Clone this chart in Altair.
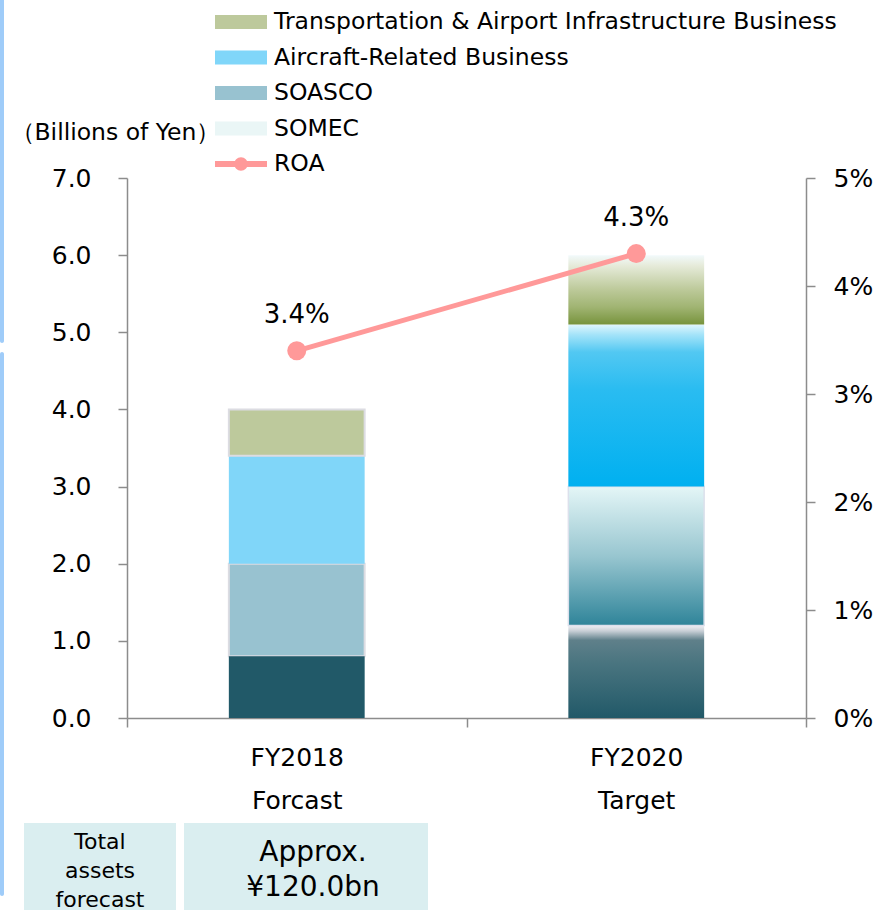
import altair as alt
import pandas as pd

# ---------------- data ----------------
categories = ["FY2018|Forcast", "FY2020|Target"]
series_names = ["SOMEC", "SOASCO", "Aircraft-Related Business",
                "Transportation & Airport Infrastructure Business"]
somec = [0.8, 1.2]
soasco = [1.2, 1.8]
aircraft = [1.4, 2.1]
transport = [0.6, 0.9]
roa = [3.4, 4.3]
legend_order = [series_names[3], series_names[2], series_names[1], series_names[0]]
legend_colors = ["#BDC99C", "#80D6F9", "#98C2D0", "#EAF6F6"]
left_ticks = [0, 1, 2, 3, 4, 5, 6, 7]
right_ticks = [0, 1, 2, 3, 4, 5]
table_head = ["Total", "assets", "forecast"]
table_value = ["Approx.", "¥120.0bn"]

rows = []
for i, cat in enumerate(categories):
    base = 0.0
    for name, vals in zip(series_names, [somec, soasco, aircraft, transport]):
        rows.append({"category": cat, "series": name, "value": vals[i],
                     "y0": round(base, 3), "y1": round(base + vals[i], 3)})
        base += vals[i]
df = pd.DataFrame(rows)
roa_df = pd.DataFrame({"category": categories, "roa": roa,
                       "label": [f"{v:.1f}%" for v in roa], "name": ["ROA"] * 2})
one = pd.DataFrame({"k": [0]})

GRAY = "#8C8C8C"
FONT = "DejaVu Sans"
BAR_W = alt.RelativeBandSize(0.4)

x_enc = alt.X("category:N", sort=categories,
              scale=alt.Scale(paddingInner=0, paddingOuter=0),
              axis=alt.Axis(title=None, labelExpr="split(datum.label, '|')", labelAngle=0,
                            labelFontSize=25, labelLineHeight=43, labelPadding=18,
                            labelBaseline="top", tickSize=9, tickBand="extent",
                            labelFont=FONT, labelColor="#000"))

y_bar = alt.Y("y0:Q", scale=alt.Scale(domain=[0, 7], nice=False),
              axis=alt.Axis(orient="left", values=left_ticks, format=".1f",
                            title="（Billions of Yen）", titleAngle=0, titleX=-117, titleY=-46,
                            titleAlign="left", titleBaseline="middle", titleFont=FONT,
                            titleFontSize=23.5, titleFontWeight="normal", titleColor="#000",
                            labelFontSize=25, labelPadding=27, tickSize=9,
                            labelFont=FONT, labelColor="#000"))

y_roa = alt.Y("roa:Q", scale=alt.Scale(domain=[0, 5], nice=False),
              axis=alt.Axis(orient="right", values=right_ticks, labelExpr="datum.value + '%'",
                            title=None, labelFontSize=25, labelPadding=18, tickSize=9,
                            labelFont=FONT, labelColor="#000"))

leg_bars = alt.Legend(title=None, orient="none", legendX=88, legendY=-171,
                      symbolType="M-1,-0.27H1V0.27H-1Z", symbolSize=2704,
                      symbolStrokeWidth=0, labelFont=FONT, labelFontSize=23.5,
                      labelColor="#000", clipHeight=30, rowPadding=5.5, padding=0,
                      labelOffset=7, symbolOffset=0, labelLimit=700)

ROA_PATH = ("M-1,-0.12H1V0.12H-1Z "
            "M-0.26,0A0.26,0.26 0 1 1 0.26,0A0.26,0.26 0 1 1 -0.26,0Z")
leg_roa = alt.Legend(title=None, orient="none", legendX=88, legendY=-29,
                     symbolType=ROA_PATH, symbolSize=2704, symbolStrokeWidth=0,
                     labelFont=FONT, labelFontSize=23.5, labelColor="#000",
                     clipHeight=30, padding=0, labelOffset=7, symbolOffset=0)

# ---------------- bars ----------------
b18 = alt.Chart(df).transform_filter(alt.datum.category == categories[0]).mark_bar(
    width=BAR_W, strokeWidth=2).encode(
    x=x_enc, y=y_bar, y2="y1:Q",
    color=alt.Color("series:N", scale=alt.Scale(domain=legend_order, range=legend_colors),
                    legend=leg_bars),
    stroke=alt.condition(
        "datum.series == 'Transportation & Airport Infrastructure Business' || datum.series == 'SOASCO'",
        alt.value("#DCDCE2"), alt.value("transparent")),
)

somec18 = alt.Chart(df).transform_filter(
    (alt.datum.category == categories[0]) & (alt.datum.series == "SOMEC")
).mark_bar(width=BAR_W, color="#215968").encode(x=x_enc, y=y_bar, y2="y1:Q")

grads = {
    "Transportation & Airport Infrastructure Business":
        [(0, "#F2FAFC"), (0.15, "#E6EBDA"), (0.5, "#BCC999"), (0.75, "#A0B472"), (1, "#77933C")],
    "Aircraft-Related Business":
        [(0, "#E0F6FD"), (0.06, "#A6E4F9"), (0.17, "#52C8F2"), (0.4, "#2ABCF1"), (1, "#00B0F0")],
    "SOASCO":
        [(0, "#E4F6F7"), (0.5, "#98C6D0"), (1, "#2F8499")],
    "SOMEC":
        [(0, "#F0F0F4"), (0.06, "#C8CFD6"), (0.16, "#5F808A"), (0.4, "#4A7580"), (1, "#215968")],
}
g20 = []
for name in series_names:
    grad = alt.Gradient(gradient="linear",
                        stops=[alt.GradientStop(color=c, offset=o) for o, c in grads[name]],
                        x1=0, x2=0, y1=0, y2=1)
    kw = {}
    if name == "SOASCO":
        kw = {"stroke": "#DCE0EC", "strokeWidth": 1.5}
    g20.append(
        alt.Chart(df).transform_filter(
            (alt.datum.category == categories[1]) & (alt.datum.series == name)
        ).mark_bar(width=BAR_W, color=grad, **kw).encode(x=x_enc, y=y_bar, y2="y1:Q")
    )

bars = alt.layer(b18, somec18, *g20)

# ---------------- ROA ----------------
line = alt.Chart(roa_df).mark_line(color="#FF9999", strokeWidth=5).encode(x=x_enc, y=y_roa)
pts = alt.Chart(roa_df).mark_circle(size=361, opacity=1).encode(
    x=x_enc, y=y_roa,
    fill=alt.Fill("name:N", scale=alt.Scale(domain=["ROA"], range=["#FF9999"]), legend=leg_roa))
lbl = alt.Chart(roa_df).mark_text(dy=-36, fontSize=26, font=FONT, color="#000").encode(
    x=x_enc, y=y_roa, text="label:N")
roa_layer = alt.layer(line, pts, lbl)

# ---------------- decorations / table ----------------
edge1 = alt.Chart(one).mark_rect(color="#9FCCF9", cornerRadius=2).encode(
    x=alt.value(-127), x2=alt.value(-123), y=alt.value(-190), y2=alt.value(165))
edge2 = alt.Chart(one).mark_rect(color="#9FCCF9", cornerRadius=2).encode(
    x=alt.value(-127), x2=alt.value(-123), y=alt.value(174), y2=alt.value(718))
box1 = alt.Chart(one).mark_rect(color="#DAEEF0").encode(
    x=alt.value(-103), x2=alt.value(49), y=alt.value(645), y2=alt.value(745))
box2 = alt.Chart(one).mark_rect(color="#DAEEF0").encode(
    x=alt.value(57), x2=alt.value(301), y=alt.value(645), y2=alt.value(745))
t1 = alt.Chart(one).mark_text(font=FONT, fontSize=22, lineHeight=29, color="#000",
                              baseline="middle", align="center").encode(
    x=alt.value(-27), y=alt.value(664), text=alt.value(table_head))
t2 = alt.Chart(one).mark_text(font=FONT, fontSize=28, lineHeight=35, color="#000",
                              baseline="middle", align="center").encode(
    x=alt.value(186), y=alt.value(675), text=alt.value(table_value))
deco = alt.layer(edge1, edge2, box1, box2, t1, t2)

chart = alt.layer(deco, bars, roa_layer).resolve_scale(y="independent").properties(
    width=679, height=540,
    padding={"left": 127, "top": 178, "right": 75, "bottom": 192},
    autosize="none",
).configure_view(strokeWidth=0).configure_axis(
    grid=False, domainColor=GRAY, tickColor=GRAY, domainWidth=1.5, tickWidth=1.5)

chart.save("out.html", embed_options={"renderer": "svg", "actions": False})
